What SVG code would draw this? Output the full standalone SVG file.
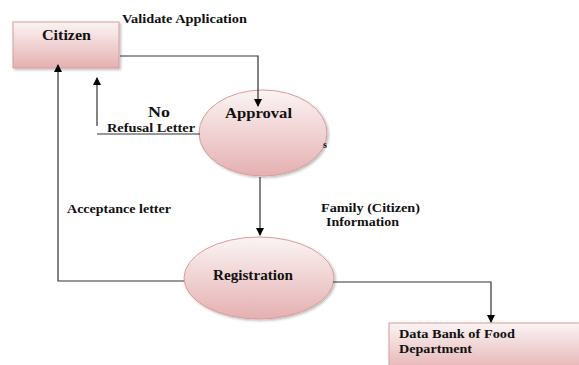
<svg xmlns="http://www.w3.org/2000/svg" width="579" height="365" viewBox="0 0 579 365">
<defs>
<linearGradient id="g" x1="0" y1="0" x2="0" y2="1">
<stop offset="0" stop-color="#fbf4f4"/>
<stop offset="1" stop-color="#e5b0b1"/>
</linearGradient>
<filter id="sh" x="-10%" y="-10%" width="130%" height="130%">
<feDropShadow dx="1.5" dy="1.5" stdDeviation="1" flood-color="#000" flood-opacity="0.25"/>
</filter>
<marker id="ah" markerWidth="8" markerHeight="8" refX="7" refY="4" orient="auto" markerUnits="userSpaceOnUse">
<path d="M0,0 L8,4 L0,8 z" fill="#000"/>
</marker>
</defs>
<style>
.shape{fill:url(#g);stroke:#d89c9d;stroke-width:1;filter:url(#sh)}
text{font-family:'Liberation Serif','DejaVu Serif',serif;font-weight:bold;fill:#111}
.n{font-size:15px}
.l{font-size:11.5px}
.c{fill:none;stroke:#333;stroke-width:1.2}
</style>
<rect width="579" height="365" fill="#fff"/>
<g id="citizen">
<rect class="shape" x="13" y="22" width="106" height="46"/>
<text class="n" x="42" y="40" textLength="49" lengthAdjust="spacingAndGlyphs">Citizen</text>
</g>
<g id="approval">
<ellipse class="shape" cx="263" cy="133" rx="64" ry="43"/>
<text class="n" x="225" y="118" textLength="67" lengthAdjust="spacingAndGlyphs">Approval</text>
<text x="323" y="148" style="font-size:10px">s</text>
</g>
<g id="registration">
<ellipse class="shape" cx="259" cy="278" rx="75" ry="41"/>
<text class="n" x="213" y="280" textLength="80" lengthAdjust="spacingAndGlyphs">Registration</text>
</g>
<g id="databank">
<rect class="shape" x="389" y="323" width="200" height="50"/>
<text class="l" x="399" y="338" textLength="116" lengthAdjust="spacingAndGlyphs">Data Bank of Food</text>
<text class="l" x="399" y="353" textLength="73" lengthAdjust="spacingAndGlyphs">Department</text>
</g>
<g id="connectors">
<polyline class="c" points="120,56 258,56 258,106" marker-end="url(#ah)"/>
<polyline class="c" points="200,134 97,134"/>
<line class="c" x1="97" y1="126" x2="97" y2="78" marker-end="url(#ah)"/>
<line class="c" x1="260" y1="177" x2="260" y2="235" marker-end="url(#ah)"/>
<polyline class="c" points="184,281 58,281 58,65" marker-end="url(#ah)"/>
<polyline class="c" points="333,282 491,282 491,322" marker-end="url(#ah)"/>
</g>
<g id="labels">
<text class="l" x="122" y="23" textLength="125" lengthAdjust="spacingAndGlyphs">Validate Application</text>
<text x="148" y="117" style="font-size:14px" textLength="22" lengthAdjust="spacingAndGlyphs">No</text>
<text class="l" x="107" y="132" textLength="88" lengthAdjust="spacingAndGlyphs">Refusal Letter</text>
<text class="l" x="67" y="213" textLength="104" lengthAdjust="spacingAndGlyphs">Acceptance letter</text>
<text class="l" x="321" y="212" textLength="99" lengthAdjust="spacingAndGlyphs">Family (Citizen)</text>
<text class="l" x="326" y="226" textLength="73" lengthAdjust="spacingAndGlyphs">Information</text>
</g>
</svg>
